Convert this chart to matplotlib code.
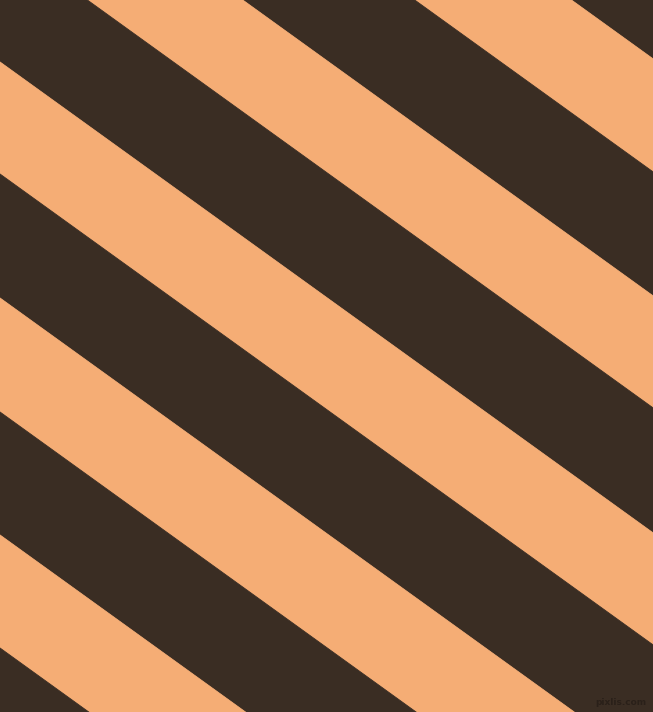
import matplotlib
matplotlib.use("Agg")
import matplotlib.pyplot as plt
import numpy as np

# Stripe boundaries: intercepts c of lines y = c + slope * x (pixel coords, y down)
slope = 0.721
band_starts = [-535, -412, -299, -175, -63, 62, 174, 298, 412, 535, 648]
band_ends = [-412, -299, -175, -63, 62, 174, 298, 412, 535, 648, 775]
band_kinds = ["dark", "peach", "dark", "peach", "dark", "peach", "dark", "peach", "dark", "peach", "dark"]
colors = {"dark": "#3A2D23", "peach": "#F5AD75"}
watermark = "pixlis.com"

W, H = 653, 712
fig = plt.figure(figsize=(W / 100, H / 100), dpi=100)
ax = fig.add_axes([0, 0, 1, 1])
ax.set_xlim(0, W)
ax.set_ylim(H, 0)
ax.axis("off")

xs = np.array([-20, W + 20])
for c0, c1, kind in zip(band_starts, band_ends, band_kinds):
    top = c0 + slope * xs
    bot = c1 + slope * xs
    ax.fill(np.concatenate([xs, xs[::-1]]), np.concatenate([top, bot[::-1]]),
            color=colors[kind], lw=0.6, ec=colors[kind], antialiased=True)

ax.text(646, 707, watermark, fontsize=6.5, color="#2A2019", ha="right", va="bottom",
        family="DejaVu Sans", fontweight="bold")

fig.savefig("out.png", dpi=100)
